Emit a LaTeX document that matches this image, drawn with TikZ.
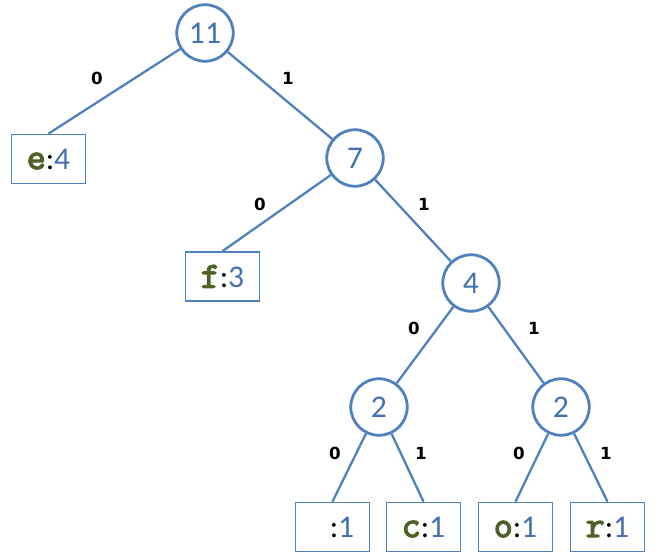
\documentclass[tikz,border=0pt]{standalone}
\usepackage{fontspec}
\setmainfont{Carlito}
\newfontfamily\bitfont{DejaVu Sans}
\newfontfamily\symfont{Latin Modern Mono}[FakeBold=3.5]
\definecolor{huffblue}{RGB}{79, 129, 189}
\definecolor{numblue}{RGB}{68, 114, 176}
\definecolor{symgreen}{RGB}{79, 98, 40}
\usetikzlibrary{positioning}

\newcommand{\leaftext}[2]{{\symfont\bfseries\fontsize{21}{22}\selectfont\color{symgreen}#1}{\color{black}:}{\color{numblue}#2}}

\begin{document}
\begin{tikzpicture}[x=0.02cm, y=-0.02cm,
    huffnode/.style={circle, draw=huffblue, line width=1.6pt, fill=white, minimum size=1.13cm, inner sep=0pt, text=numblue, font=\fontsize{18}{20}\selectfont},
    leafbox/.style={rectangle, draw=huffblue, line width=1pt, fill=white, minimum width=1.48cm, minimum height=0.98cm, inner sep=0pt, font=\fontsize{18}{20}\selectfont},
    bitlabel/.style={font=\bitfont\bfseries\fontsize{9.5}{11}\selectfont, text=black},
    branch/.style={draw=huffblue, line width=1.3pt}]
  \useasboundingbox (0,0) rectangle (658,554);

  % internal nodes
  \node[huffnode] (n11) at (205, 33) {11};
  \node[huffnode] (n7) at (355, 158) {7};
  \node[huffnode] (n4) at (471, 283) {4};
  \node[huffnode] (n2a) at (379, 407) {2};
  \node[huffnode] (n2b) at (561, 407) {2};

  % leaves
  \node[leafbox] (leafe) at (48.5, 159) {\leaftext{e}{4}};
  \node[leafbox] (leaff) at (222.5, 276.5) {\leaftext{f}{3}};
  \node[leafbox] (leafsp) at (332.5, 527) {\leaftext{\hphantom{x}}{1}};
  \node[leafbox] (leafc) at (423.5, 527) {\leaftext{c}{1}};
  \node[leafbox] (leafo) at (515.5, 527) {\leaftext{o}{1}};
  \node[leafbox] (leafr) at (607.5, 527) {\leaftext{r}{1}};

  % branches
  \draw[branch] (n11) -- (leafe.north);
  \draw[branch] (n11) -- (n7);
  \draw[branch] (n7) -- (leaff.north);
  \draw[branch] (n7) -- (n4);
  \draw[branch] (n4) -- (n2a);
  \draw[branch] (n4) -- (n2b);
  \draw[branch] (n2a) -- (leafsp.north);
  \draw[branch] (n2a) -- (leafc.north);
  \draw[branch] (n2b) -- (leafo.north);
  \draw[branch] (n2b) -- (leafr.north);

  % bit labels
  \node[bitlabel] (bit11l) at (97, 78) {0};
  \node[bitlabel] (bit11r) at (288, 78) {1};
  \node[bitlabel] (bit7l) at (260, 204) {0};
  \node[bitlabel] (bit7r) at (424, 204) {1};
  \node[bitlabel] (bit4l) at (414, 328) {0};
  \node[bitlabel] (bit4r) at (534, 328) {1};
  \node[bitlabel] (bit2al) at (335, 453) {0};
  \node[bitlabel] (bit2ar) at (421, 453) {1};
  \node[bitlabel] (bit2bl) at (519, 453) {0};
  \node[bitlabel] (bit2br) at (606, 453) {1};
\end{tikzpicture}
\end{document}
